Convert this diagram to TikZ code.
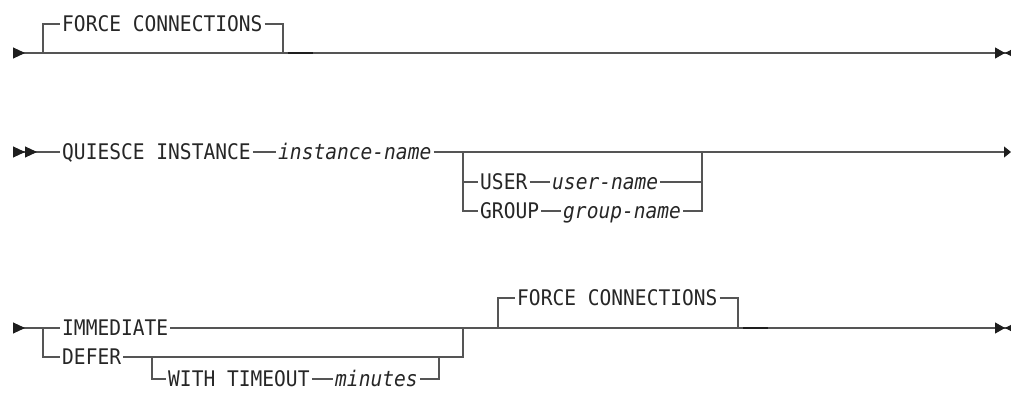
\documentclass[tikz,border=0pt]{standalone}
\usepackage{fontspec}
\newfontfamily\railfont[FakeStretch=0.91]{DejaVu Sans Mono}
\usetikzlibrary{arrows.meta, positioning}
\definecolor{crail}{HTML}{555555}
\definecolor{ctext}{HTML}{262626}
\definecolor{ctip}{HTML}{1E1E1E}
\tikzset{
  every picture/.style={x=1pt, y=-1pt},
  rail/.style={draw=crail, line width=1.1pt},
  dflt/.style={draw=ctip, line width=2.2pt},
  kw/.style={font=\railfont\fontsize{21.5}{22}\selectfont, text=ctext, anchor=west,
    inner xsep=2pt, inner ysep=0pt, text height=15.6pt, text depth=0pt},
  var/.style={kw, font=\railfont\itshape\fontsize{21.5}{22}\selectfont},
  begin tip/.style={{Triangle[reversed, length=12pt, width=11pt, color=ctip]}-},
  double tip/.style={{Triangle[reversed, length=12pt, width=11pt, color=ctip]Triangle[reversed, length=12pt, width=11pt, color=ctip]}-},
  end tip/.style={-{Triangle[length=10pt, width=11pt, color=ctip]Triangle[reversed, length=6pt, width=6pt, color=ctip]}},
  both tips/.style={{Triangle[reversed, length=12pt, width=11pt, color=ctip]}-{Triangle[length=10pt, width=11pt, color=ctip]Triangle[reversed, length=6pt, width=6pt, color=ctip]}},
  more tip/.style={-{Triangle[length=7pt, width=11pt, color=ctip]}},
}

\begin{document}
\begin{tikzpicture}
  \useasboundingbox (0,0) rectangle (1011,393);
  % first line
  \coordinate (r1s) at (13,53);
  \coordinate (r1e) at (1011,53);
  \coordinate (j1a) at (43,53);
  \coordinate (j1b) at (283,53);
  \node[kw] (fc1) at (60,24) {FORCE CONNECTIONS};
  \draw[rail, both tips] (r1s) -- (r1e);
  \draw[rail] (j1a) |- (fc1.west);
  \draw[rail] (fc1.east) -| (j1b);
  \draw[dflt] (288,53) -- ++(25,0);
  % second line
  \coordinate (r2s) at (13,152);
  \coordinate (r2e) at (1011,152);
  \coordinate (j2a) at (463,152);
  \coordinate (j2b) at (702,152);
  \node[kw] (qi) at (60,152) {QUIESCE INSTANCE};
  \node[var] (iname) at (276,152) {instance-name};
  \node[kw] (user) at (478,182) {USER};
  \node[var] (uname) at (550,182) {user-name};
  \node[kw] (group) at (478,211) {GROUP};
  \node[var] (gname) at (561,211) {group-name};
  \draw[rail, double tip] (r2s) -- (qi.west);
  \draw[rail] (qi.east) -- (iname.west);
  \draw[rail, more tip] (iname.east) -- (r2e);
  \draw[rail] (j2a) |- (user.west);
  \draw[rail] (user.east) -- (uname.west);
  \draw[rail] (uname.east) -| (j2b);
  \draw[rail] (j2a) |- (group.west);
  \draw[rail] (group.east) -- (gname.west);
  \draw[rail] (gname.east) -| (j2b);
  % third line
  \coordinate (r3s) at (13,328);
  \coordinate (r3e) at (1011,328);
  \coordinate (j3a) at (43,328);
  \coordinate (j3b) at (463,328);
  \coordinate (j3c) at (152,357);
  \coordinate (j3d) at (439,357);
  \coordinate (j3e) at (498,328);
  \coordinate (j3f) at (738,328);
  \node[kw] (imm) at (60,328) {IMMEDIATE};
  \node[kw] (defer) at (60,357) {DEFER};
  \node[kw] (wt) at (166,379) {WITH TIMEOUT};
  \node[var] (mins) at (333,379) {minutes};
  \node[kw] (fc2) at (515,298) {FORCE CONNECTIONS};
  \draw[rail, begin tip] (r3s) -- (imm.west);
  \draw[rail, end tip] (imm.east) -- (r3e);
  \draw[rail] (j3a) |- (defer.west);
  \draw[rail] (defer.east) -| (j3b);
  \draw[rail] (j3c) |- (wt.west);
  \draw[rail] (wt.east) -- (mins.west);
  \draw[rail] (mins.east) -| (j3d);
  \draw[rail] (j3e) |- (fc2.west);
  \draw[rail] (fc2.east) -| (j3f);
  \draw[dflt] (743,328) -- ++(25,0);
\end{tikzpicture}
\end{document}
